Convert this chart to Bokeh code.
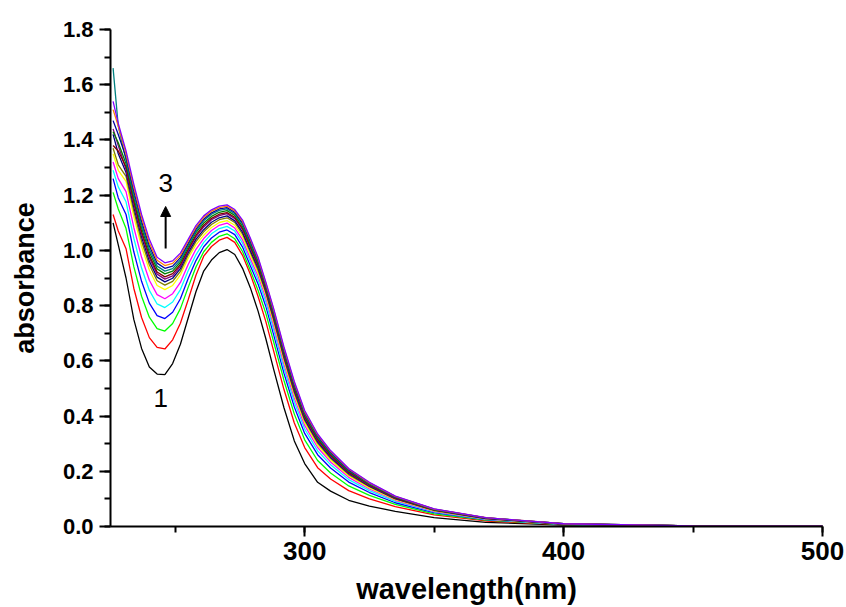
from bokeh.plotting import figure
from bokeh.models import Range1d, SingleIntervalTicker, Label, Arrow, NormalHead, CustomJSTickFormatter
from bokeh.embed import file_html
from bokeh.resources import INLINE

# wavelength grid (nm)
wavelength = [226, 228, 231, 234, 237, 240, 243, 246, 249, 252, 255, 258, 261, 264, 267, 270,
              273, 276, 279, 282, 285, 288, 292, 296, 300, 305, 310, 317, 325, 335, 350, 370,
              400, 450, 500]

# absorbance spectra, curve 1 (black) ... last curve (violet)
abs_black = [1.10, 1.02, 0.90, 0.75, 0.645, 0.578, 0.552, 0.550, 0.590, 0.660, 0.755, 0.850, 0.925, 0.965, 0.992, 1.003, 0.985, 0.935, 0.865, 0.78, 0.68, 0.57, 0.43, 0.31, 0.228, 0.16, 0.128, 0.095, 0.074, 0.055, 0.032, 0.015, 0.005, 0.001, 0.0]
abs_red = [1.13, 1.07, 1.006, 0.863, 0.757, 0.684, 0.649, 0.643, 0.676, 0.736, 0.821, 0.910, 0.979, 1.014, 1.037, 1.047, 1.029, 0.982, 0.914, 0.833, 0.742, 0.636, 0.496, 0.375, 0.286, 0.213, 0.172, 0.130, 0.100, 0.072, 0.042, 0.020, 0.007, 0.001, 0.0]
abs_green = [1.21, 1.15, 1.079, 0.941, 0.834, 0.758, 0.717, 0.708, 0.735, 0.789, 0.866, 0.940, 0.995, 1.029, 1.051, 1.060, 1.042, 0.996, 0.928, 0.855, 0.772, 0.669, 0.529, 0.407, 0.314, 0.239, 0.194, 0.147, 0.113, 0.080, 0.046, 0.023, 0.007, 0.001, 0.001]
abs_blue = [1.26, 1.19, 1.13, 0.995, 0.888, 0.809, 0.764, 0.753, 0.776, 0.825, 0.898, 0.963, 1.013, 1.045, 1.066, 1.074, 1.057, 1.012, 0.944, 0.878, 0.797, 0.695, 0.555, 0.433, 0.337, 0.260, 0.212, 0.161, 0.123, 0.086, 0.050, 0.025, 0.008, 0.001, 0.001]
abs_cyan = [1.29, 1.23, 1.176, 1.044, 0.936, 0.855, 0.806, 0.793, 0.813, 0.858, 0.926, 0.984, 1.029, 1.060, 1.079, 1.087, 1.070, 1.026, 0.959, 0.893, 0.813, 0.713, 0.573, 0.450, 0.353, 0.274, 0.224, 0.170, 0.130, 0.091, 0.053, 0.026, 0.008, 0.001, 0.001]
abs_magenta = [1.32, 1.26, 1.213, 1.083, 0.975, 0.892, 0.840, 0.825, 0.843, 0.884, 0.949, 1.004, 1.043, 1.072, 1.091, 1.099, 1.081, 1.038, 0.971, 0.907, 0.828, 0.728, 0.588, 0.465, 0.366, 0.286, 0.234, 0.178, 0.136, 0.095, 0.055, 0.027, 0.009, 0.001, 0.001]
abs_yellow = [1.35, 1.29, 1.250, 1.122, 1.014, 0.929, 0.873, 0.858, 0.873, 0.911, 0.972, 1.020, 1.055, 1.083, 1.101, 1.108, 1.091, 1.049, 0.982, 0.918, 0.838, 0.739, 0.599, 0.476, 0.376, 0.295, 0.241, 0.184, 0.140, 0.097, 0.057, 0.028, 0.009, 0.002, 0.001]
abs_dkyellow = [1.37, 1.31, 1.268, 1.142, 1.033, 0.948, 0.890, 0.874, 0.888, 0.924, 0.983, 1.032, 1.067, 1.094, 1.111, 1.118, 1.101, 1.059, 0.993, 0.928, 0.846, 0.748, 0.608, 0.484, 0.384, 0.302, 0.247, 0.188, 0.144, 0.100, 0.058, 0.029, 0.009, 0.002, 0.001]
abs_navy = [1.42, 1.35, 1.282, 1.157, 1.048, 0.961, 0.903, 0.886, 0.899, 0.934, 0.992, 1.040, 1.075, 1.102, 1.118, 1.125, 1.107, 1.066, 1.000, 0.936, 0.852, 0.755, 0.615, 0.491, 0.389, 0.307, 0.251, 0.192, 0.146, 0.101, 0.059, 0.029, 0.009, 0.002, 0.001]
abs_purple = [1.44, 1.38, 1.293, 1.169, 1.060, 0.973, 0.914, 0.896, 0.908, 0.942, 0.999, 1.049, 1.085, 1.111, 1.126, 1.133, 1.115, 1.075, 1.009, 0.943, 0.858, 0.761, 0.621, 0.497, 0.395, 0.312, 0.256, 0.195, 0.149, 0.103, 0.060, 0.030, 0.009, 0.002, 0.001]
abs_wine = [1.38, 1.36, 1.303, 1.179, 1.069, 0.982, 0.922, 0.904, 0.916, 0.949, 1.004, 1.055, 1.091, 1.116, 1.131, 1.137, 1.120, 1.080, 1.014, 0.948, 0.862, 0.766, 0.626, 0.501, 0.399, 0.316, 0.259, 0.197, 0.151, 0.104, 0.060, 0.030, 0.009, 0.002, 0.001]
abs_olive = [1.43, 1.39, 1.314, 1.191, 1.082, 0.994, 0.933, 0.915, 0.925, 0.957, 1.012, 1.064, 1.099, 1.123, 1.138, 1.144, 1.127, 1.087, 1.022, 0.954, 0.869, 0.772, 0.632, 0.508, 0.405, 0.321, 0.263, 0.201, 0.153, 0.106, 0.061, 0.031, 0.010, 0.002, 0.001]
abs_dkcyan = [1.66, 1.45, 1.326, 1.203, 1.094, 1.005, 0.943, 0.925, 0.934, 0.965, 1.019, 1.070, 1.107, 1.131, 1.145, 1.150, 1.133, 1.094, 1.029, 0.961, 0.873, 0.777, 0.637, 0.512, 0.408, 0.325, 0.266, 0.203, 0.155, 0.107, 0.062, 0.031, 0.010, 0.002, 0.001]
abs_royal = [1.47, 1.42, 1.337, 1.216, 1.106, 1.017, 0.954, 0.935, 0.943, 0.974, 1.026, 1.077, 1.113, 1.136, 1.150, 1.155, 1.138, 1.100, 1.034, 0.965, 0.877, 0.781, 0.641, 0.516, 0.412, 0.328, 0.269, 0.205, 0.157, 0.108, 0.063, 0.031, 0.010, 0.002, 0.001]
abs_orange = [1.51, 1.45, 1.349, 1.228, 1.118, 1.028, 0.964, 0.945, 0.953, 0.982, 1.033, 1.083, 1.119, 1.142, 1.155, 1.160, 1.143, 1.105, 1.040, 0.970, 0.881, 0.786, 0.646, 0.521, 0.416, 0.332, 0.272, 0.208, 0.158, 0.109, 0.063, 0.032, 0.010, 0.002, 0.001]
abs_violet = [1.54, 1.46, 1.36, 1.24, 1.13, 1.04, 0.975, 0.955, 0.962, 0.99, 1.04, 1.09, 1.125, 1.147, 1.160, 1.165, 1.148, 1.11, 1.045, 0.975, 0.885, 0.79, 0.65, 0.525, 0.42, 0.335, 0.275, 0.21, 0.16, 0.11, 0.064, 0.032, 0.010, 0.002, 0.001]

series = [abs_black, abs_red, abs_green, abs_blue, abs_cyan, abs_magenta, abs_yellow,
          abs_dkyellow, abs_navy, abs_purple, abs_wine, abs_olive, abs_dkcyan, abs_royal,
          abs_orange, abs_violet]
colors = ["#000000", "#FF0000", "#00FF00", "#0000FF", "#00FFFF", "#FF00FF", "#FFFF00",
          "#808000", "#000080", "#800080", "#800000", "#008000", "#008080", "#0000A0",
          "#FF8000", "#8000FF"]

FONT = "Liberation Sans"

p = figure(width=846, height=607, output_backend="svg", toolbar_location=None,
           x_range=Range1d(225, 500), y_range=Range1d(0, 1.8),
           min_border_left=110, min_border_right=24, min_border_top=29, min_border_bottom=81)
p.outline_line_color = None
p.xgrid.visible = False
p.ygrid.visible = False
p.background_fill_color = "white"
p.border_fill_color = "white"

for ys, c in zip(series, colors):
    p.line(wavelength, ys, line_color=c, line_width=1.3)

p.xaxis.ticker = SingleIntervalTicker(interval=100, num_minor_ticks=2)
p.yaxis.ticker = SingleIntervalTicker(interval=0.2, num_minor_ticks=2)
p.yaxis.formatter = CustomJSTickFormatter(code="return tick.toFixed(1);")

for ax in (p.xaxis[0], p.yaxis[0]):
    ax.axis_line_width = 2
    ax.major_tick_line_width = 2
    ax.minor_tick_line_width = 2
    ax.major_tick_in = 0
    ax.major_tick_out = 11
    ax.minor_tick_in = 0
    ax.minor_tick_out = 6
    ax.major_label_text_font = FONT
    ax.major_label_text_font_style = "bold"
    ax.major_label_text_color = "black"
    ax.axis_label_text_font = FONT
    ax.axis_label_text_font_style = "bold"
    ax.axis_label_text_color = "black"

p.xaxis.major_tick_out = 10
p.xaxis.major_label_text_font_size = "26px"
p.yaxis.major_label_text_font_size = "22px"
p.xaxis.major_label_standoff = 5
p.yaxis.major_label_standoff = 6
p.xaxis.axis_label = "wavelength(nm)"
p.yaxis.axis_label = "absorbance"
p.xaxis.axis_label_text_font_size = "29px"
p.yaxis.axis_label_text_font_size = "27px"
p.xaxis.axis_label_standoff = 10
p.yaxis.axis_label_standoff = 20

p.add_layout(Label(x=244.4, y=0.464, text="1", text_align="center", text_baseline="middle",
                   text_font=FONT, text_font_size="26px", text_color="black"))
p.add_layout(Label(x=246.3, y=1.243, text="3", text_align="center", text_baseline="middle",
                   text_font=FONT, text_font_size="26px", text_color="black"))
p.add_layout(Arrow(end=NormalHead(size=10, fill_color="black", line_color="black"),
                   x_start=246.3, y_start=1.007, x_end=246.3, y_end=1.159,
                   line_width=2, line_color="black"))

open("out.html", "w").write(file_html(p, INLINE))
